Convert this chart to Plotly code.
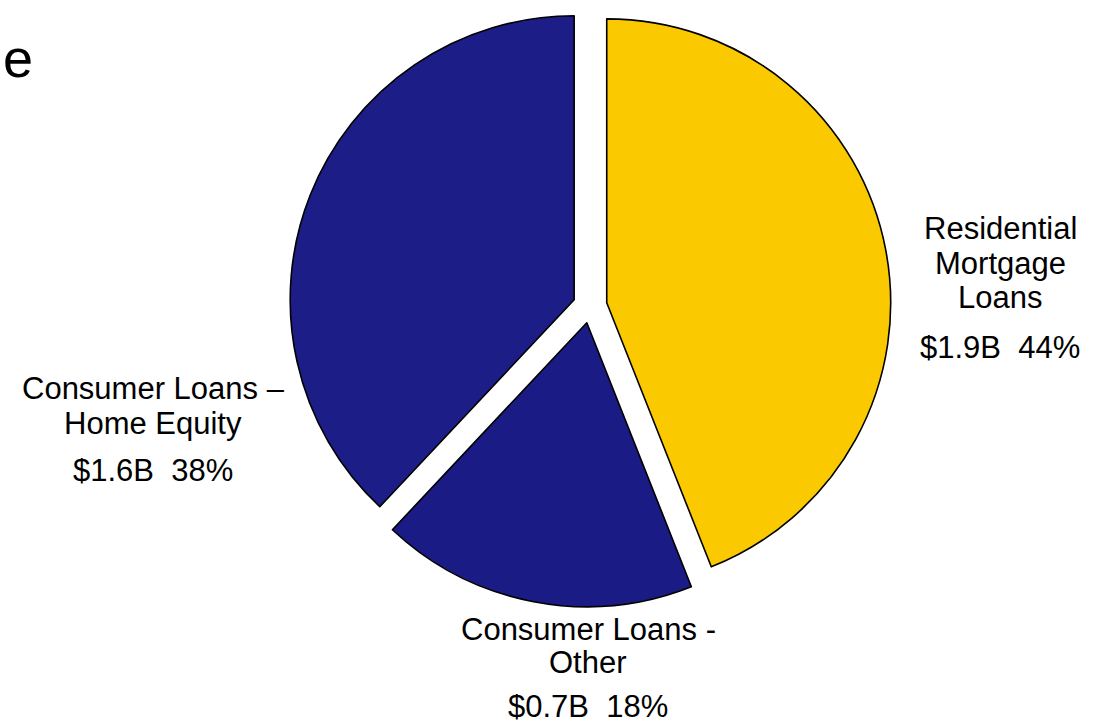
import plotly.graph_objects as go

# Loan portfolio composition
categories = ["Residential Mortgage Loans", "Consumer Loans - Other", "Consumer Loans – Home Equity"]
percent = [44, 18, 38]
amounts = ["$1.9B", "$0.7B", "$1.6B"]
colors = ["#FAC900", "#1B1B85", "#1D1D87"]

W, H = 1095, 728

fig = go.Figure()
fig.add_trace(go.Pie(
    labels=categories,
    values=percent,
    sort=False,
    direction="clockwise",
    rotation=0,
    pull=[0.06, 0.06, 0.06],
    marker=dict(colors=colors, line=dict(color="#000000", width=1.6)),
    textinfo="none",
    hoverinfo="label+percent",
    showlegend=False,
    domain=dict(x=[289 / W, 891 / W], y=[1 - 607 / H, 1 - 5 / H]),
))

font = dict(family="Liberation Sans, Arial, sans-serif", size=31, color="#000000")

def px(x, y):
    return x / W, 1 - y / H

# Category names (one annotation per line) and value lines
label_blocks = [
    (["Residential", "Mortgage", "Loans"], 1000, [228, 263, 297], 347, 0),
    (["Consumer Loans –", "Home Equity"], 153, [388, 423], 470, 2),
    (["Consumer Loans -", "Other"], 588, [629, 662], 706, 1),
]
for lines, cx, ys, vy, idx in label_blocks:
    for line, ly in zip(lines, ys):
        x, y = px(cx, ly)
        fig.add_annotation(x=x, y=y, xref="paper", yref="paper", text=line, showarrow=False,
                           font=font, xanchor="center", yanchor="middle", borderpad=0)
    x, y = px(cx, vy)
    fig.add_annotation(x=x, y=y, xref="paper", yref="paper",
                       text=f"{amounts[idx]}&nbsp;&nbsp;{percent[idx]}%",
                       showarrow=False, font=font, xanchor="center", yanchor="middle", borderpad=0)

# Tail of the slide heading
x, y = px(2, 58)
fig.add_annotation(x=x, y=y, xref="paper", yref="paper", text="e", showarrow=False,
                   font=dict(family="Liberation Sans, Arial, sans-serif", size=54, color="#000000"),
                   xanchor="left", yanchor="middle", borderpad=0)

fig.update_layout(
    width=W, height=H,
    margin=dict(l=0, r=0, t=0, b=0),
    paper_bgcolor="#FFFFFF",
    plot_bgcolor="#FFFFFF",
)

fig.write_html("out.html")
